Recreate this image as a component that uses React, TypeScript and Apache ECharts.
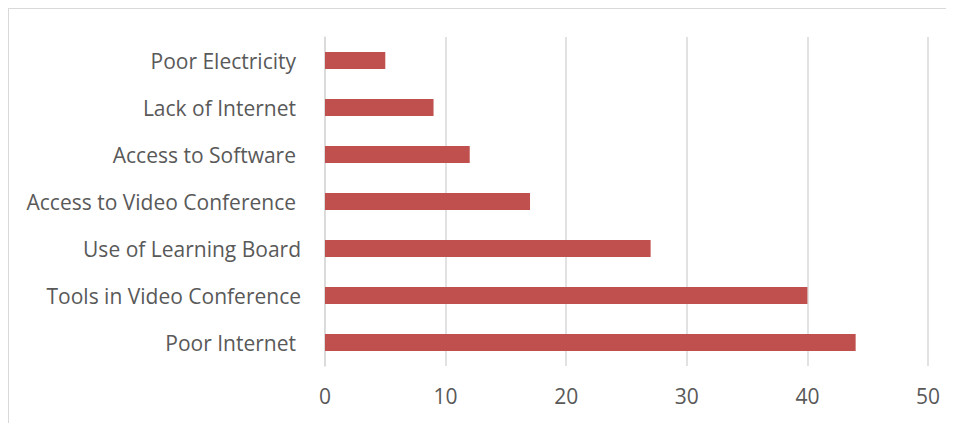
import React, { useEffect, useRef } from "react";
import * as echarts from "echarts";

const categories = [
  "Poor Internet",
  "Tools in Video Conference",
  "Use of Learning Board",
  "Access to Video Conference",
  "Access to Software",
  "Lack of Internet",
  "Poor Electricity",
];
const values = [44, 40, 27, 17, 12, 9, 5];
const xTicks = { min: 0, max: 50, interval: 10 };
// labels that carry a trailing space in the original
const trailingSpace = [
  "Poor Internet",
  "Access to Video Conference",
  "Access to Software",
  "Lack of Internet",
  "Poor Electricity",
];

export default function App() {
  const ref = useRef<HTMLDivElement>(null);
  useEffect(() => {
    if (!ref.current) return;
    document.body.style.overflow = "hidden";
    const chart = echarts.init(ref.current, null, { renderer: "svg" });
    const font = "'Open Sans', sans-serif";
    chart.setOption({
      animation: false,
      backgroundColor: "#ffffff",
      grid: { left: 316, right: 27, top: 28, bottom: 58, containLabel: false },
      xAxis: {
        type: "value",
        min: xTicks.min,
        max: xTicks.max,
        interval: xTicks.interval,
        axisLine: { show: false },
        axisTick: { show: false },
        splitLine: { show: true, lineStyle: { color: "#d9d9d9", width: 1.5 } },
        axisLabel: { color: "#595959", fontSize: 21, fontFamily: font, margin: 19 },
      },
      yAxis: {
        type: "category",
        data: categories,
        axisLine: { show: true, lineStyle: { color: "#d9d9d9", width: 1.5 } },
        axisTick: { show: false },
        axisLabel: {
          color: "#595959",
          fontSize: 21,
          fontFamily: font,
          margin: 24,
          formatter: (name: string) =>
            trailingSpace.includes(name) ? `{s|${name}}` : `{n|${name}}`,
          rich: {
            s: { color: "#595959", fontSize: 21, fontFamily: font, padding: [0, 5, 0, 0] },
            n: { color: "#595959", fontSize: 21, fontFamily: font },
          },
        },
      },
      series: [
        {
          type: "bar",
          data: values,
          barWidth: 17,
          itemStyle: { color: "#c0504d" },
        },
      ],
    });
    return () => chart.dispose();
  }, []);
  return (
    <div
      ref={ref}
      style={{
        width: 946,
        height: 415,
        borderTop: "1px solid #d9d9d9",
        borderLeft: "1px solid #d9d9d9",
      }}
    />
  );
}
